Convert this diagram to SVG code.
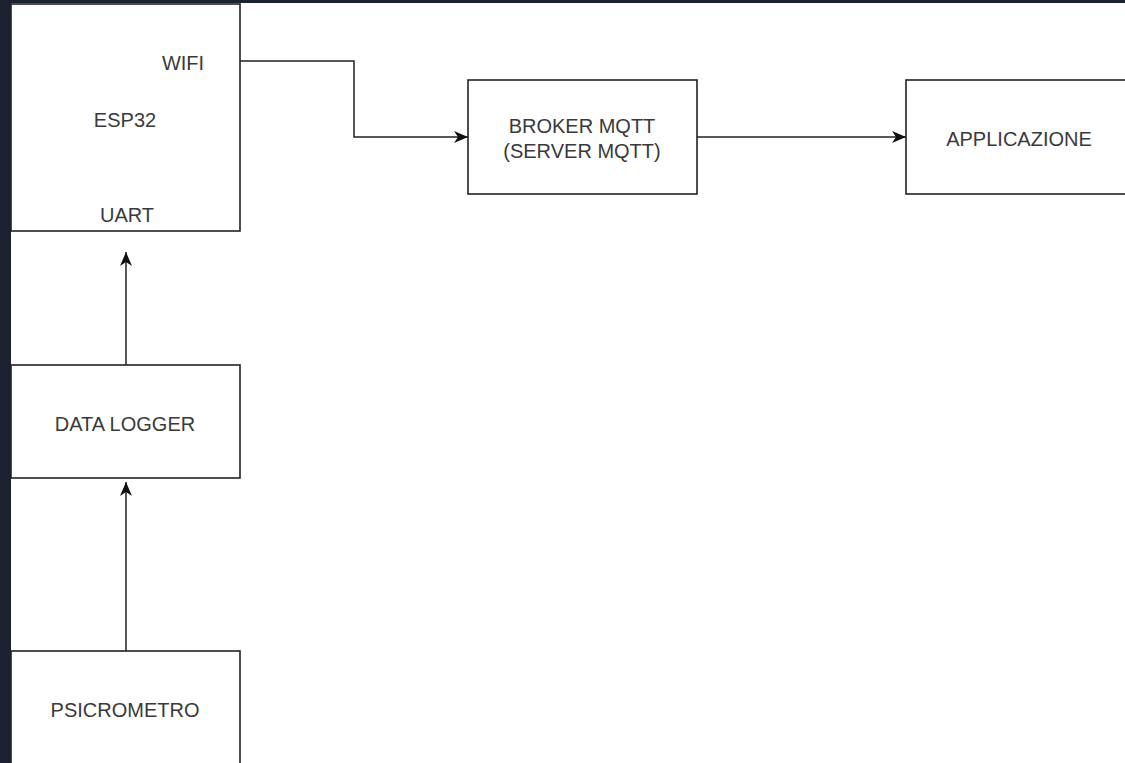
<svg xmlns="http://www.w3.org/2000/svg" width="1125" height="763" viewBox="0 0 1125 763">
  <defs>
    <marker id="arrow" markerWidth="16" markerHeight="14" refX="14" refY="6.5" orient="auto" markerUnits="userSpaceOnUse">
      <path d="M0,0.5 L14,6.5 L0,12.5 L4,6.5 z" fill="#111111"/>
    </marker>
    <style>
      .box { fill: #ffffff; stroke: #222222; stroke-width: 1.6; }
      .lbl { font-family: "Liberation Sans", Arial, sans-serif; font-size: 20px; fill: #3a3a3a; text-anchor: middle; }
      .edge { fill: none; stroke: #222222; stroke-width: 1.5; marker-end: url(#arrow); }
    </style>
  </defs>
  <rect x="0" y="0" width="1125" height="763" fill="#1b2130"/>
  <rect x="11" y="3" width="1114" height="760" fill="#ffffff"/>

  <g id="connectors">
    <polyline class="edge" points="240,61 354,61 354,137 468,137"/>
    <line class="edge" x1="697" y1="137" x2="906" y2="137"/>
    <line class="edge" x1="126" y1="365" x2="126" y2="252"/>
    <line class="edge" x1="126" y1="651" x2="126" y2="482"/>
  </g>

  <g id="esp32">
    <rect class="box" x="11" y="4" width="229" height="227"/>
    <text class="lbl" x="183" y="70">WIFI</text>
    <text class="lbl" x="125" y="127">ESP32</text>
    <text class="lbl" x="127" y="222">UART</text>
  </g>

  <g id="broker">
    <rect class="box" x="468" y="80" width="229" height="114"/>
    <text class="lbl" x="582" y="133">BROKER MQTT</text>
    <text class="lbl" x="582" y="158">(SERVER MQTT)</text>
  </g>

  <g id="applicazione">
    <rect class="box" x="906" y="80" width="226" height="114"/>
    <text class="lbl" x="1019" y="146">APPLICAZIONE</text>
  </g>

  <g id="datalogger">
    <rect class="box" x="11" y="365" width="229" height="113"/>
    <text class="lbl" x="125" y="431">DATA LOGGER</text>
  </g>

  <g id="psicrometro">
    <rect class="box" x="11" y="651" width="229" height="130"/>
    <text class="lbl" x="125" y="717">PSICROMETRO</text>
  </g>
</svg>
